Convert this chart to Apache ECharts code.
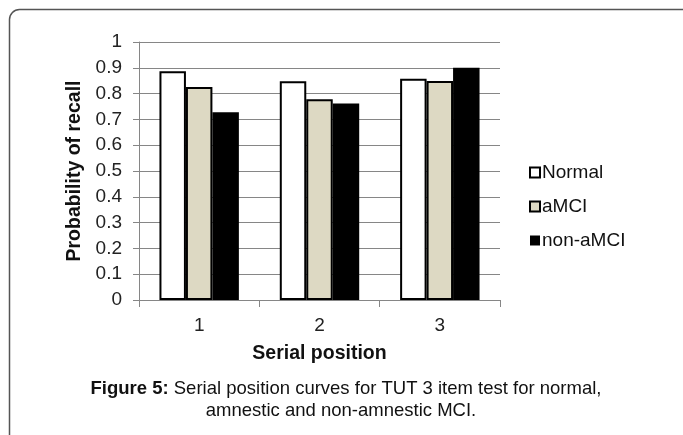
<!DOCTYPE html>
<html>
<head>
<meta charset="utf-8">
<script src="https://cdn.jsdelivr.net/npm/echarts@6/dist/echarts.min.js"></script>
<style>html,body{margin:0;padding:0;background:#fff}#c{width:683px;height:435px}</style>
</head>
<body>
<div id="c"></div>
<script>
var categories = ['1', '2', '3'];
var seriesNames = ['Normal', 'aMCI', 'non-aMCI'];
var normal = [0.887, 0.848, 0.858];
var amci = [0.826, 0.778, 0.849];
var nonAmci = [0.728, 0.762, 0.90];
var yTicks = [0, 0.1, 0.2, 0.3, 0.4, 0.5, 0.6, 0.7, 0.8, 0.9, 1];
var captionBold = 'Figure 5:';
var captionLine1 = ' Serial position curves for TUT 3 item test for normal,';
var captionLine2 = 'amnestic and non-amnestic MCI.';

var font = 'Liberation Sans, Arial, sans-serif';
var chart = echarts.init(document.getElementById('c'), null, {renderer: 'canvas'});
chart.setOption({
  backgroundColor: '#fff',
  animation: false,
  textStyle: {fontFamily: font},
  grid: {left: 139, right: 183, top: 42, bottom: 135, containLabel: false},
  legend: {
    orient: 'vertical', left: 524, top: 158, itemGap: 15,
    icon: 'rect', itemWidth: 10, itemHeight: 10,
    textStyle: {fontSize: 19, color: '#111', fontFamily: font, padding: [0, 0, 0, -3]},
    data: seriesNames
  },
  xAxis: {
    type: 'category', data: categories,
    name: 'Serial position', nameLocation: 'middle', nameGap: 44,
    nameTextStyle: {fontSize: 19.5, fontWeight: 'bold', color: '#111', fontFamily: font},
    axisLine: {lineStyle: {color: '#868686', width: 1}},
    axisTick: {show: true, length: 7, lineStyle: {color: '#868686'}},
    axisLabel: {fontSize: 19, color: '#222', margin: 16, fontFamily: font}
  },
  yAxis: {
    type: 'value', min: 0, max: 1, interval: 0.1,
    name: 'Probability of recall', nameLocation: 'middle', nameGap: 51, nameRotate: 90,
    nameTextStyle: {fontSize: 19.5, fontWeight: 'bold', color: '#111', fontFamily: font},
    axisLine: {show: true, lineStyle: {color: '#868686', width: 1}},
    axisTick: {show: true, length: 6, lineStyle: {color: '#868686'}},
    splitLine: {lineStyle: {color: '#868686', width: 1}},
    axisLabel: {fontSize: 19, color: '#222', margin: 17, fontFamily: font,
      formatter: function (v) { var r = Math.round(v * 10) / 10; return yTicks.indexOf(r) >= 0 ? String(r) : ''; }}
  },
  series: [
    {name: seriesNames[0], type: 'bar', data: normal, barGap: '0%', barCategoryGap: '34%',
     itemStyle: {color: '#ffffff', borderColor: '#000', borderWidth: 2}},
    {name: seriesNames[1], type: 'bar', data: amci,
     itemStyle: {color: '#ddd9c3', borderColor: '#000', borderWidth: 2}},
    {name: seriesNames[2], type: 'bar', data: nonAmci,
     itemStyle: {color: '#000000', borderColor: '#000', borderWidth: 0}}
  ],
  graphic: [
    {type: 'rect', shape: {x: 9.5, y: 9.5, width: 720, height: 480, r: [10, 0, 0, 0]},
     style: {fill: 'none', stroke: '#555', lineWidth: 1.5}, silent: true},
    {type: 'text', x: 346, y: 389,
     style: {
       text: '{b|' + captionBold + '}' + captionLine1,
       align: 'center', verticalAlign: 'middle', font: '18.5px ' + font, fill: '#111',
       rich: {b: {fontWeight: 'bold', fontSize: 18.5, fontFamily: font, fill: '#111'}}
     }},
    {type: 'text', x: 341, y: 411,
     style: {
       text: captionLine2,
       align: 'center', verticalAlign: 'middle', font: '18.5px ' + font, fill: '#111'
     }}
  ]
});
</script>
</body>
</html>
